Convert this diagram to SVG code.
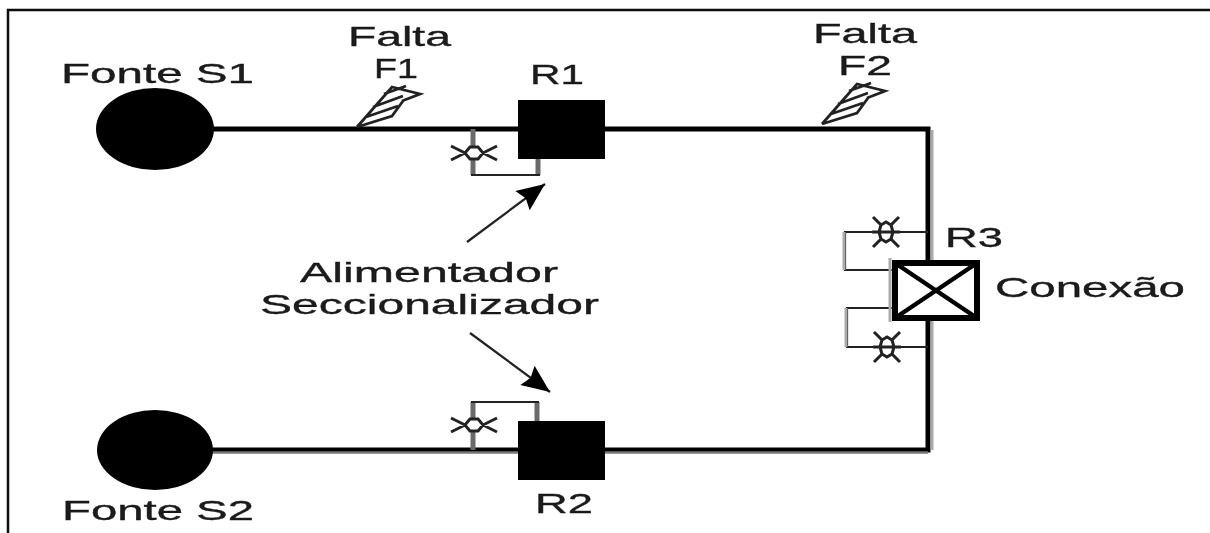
<svg xmlns="http://www.w3.org/2000/svg" width="1210" height="533" viewBox="0 0 1210 533">
<style>
text{font-family:"Liberation Sans",Arial,sans-serif;font-size:28px;fill:#1a1a1a;stroke:#1a1a1a;stroke-width:.35}
.main{fill:none;stroke:#000;stroke-width:5}
.loopv{fill:none;stroke:#6a6a6a;stroke-width:5}
.thin{fill:none;stroke:#222;stroke-width:2.2}
.sw{fill:none;stroke:#222;stroke-width:3}
.bolt{fill:none;stroke:#222;stroke-width:2.8}
</style>
<defs>
<filter id="soft" x="-2%" y="-2%" width="104%" height="104%"><feGaussianBlur stdDeviation="0.7"/></filter>
<marker id="arrow" markerUnits="userSpaceOnUse" markerWidth="34" markerHeight="30" refX="30" refY="15" orient="auto"><path d="M2 3L30 15L2 27L6 15Z" fill="#000"/></marker>
<g id="breakerH"><path d="M-9 0L-4-6H4L9 0L4 6H-4Z" fill="#fff" stroke="none"/><path class="sw" d="M-23-7L-9 0L-4-6H4L9 0L23-7M-23 7L-9 0L-4 6H4L9 0L23 7"/></g>
<g id="breakerV"><path class="sw" d="M-13-15L-5-7L-7 0L-5 7L-13 15M13-15L5-7L7 0L5 7L13 15M-5-7L0-10L5-7M-5 7L0 10L5 7M-14 0H14"/></g>
<g id="bolt"><path class="bolt" d="M357 127L392 87L420 94L402 101M357 127L392 116L403 101M366 117L398 106M373 107L403 96M384 94L406 86" /></g>
</defs>
<g filter="url(#soft)">
<g id="frame"><path d="M8 533V10H1210" fill="none" stroke="#111" stroke-width="2.5"/></g>
<g id="connectors">
<path class="main" d="M212 129H928V450H212"/>
<path d="M932 130V450" stroke="#aaa" stroke-width="3"/>
<path d="M212 452.500H928" stroke="#777" stroke-width="2.500"/>
<path class="loopv" d="M473 129V175M538 175V158M473 450V402M537 402V421"/>
<path class="thin" stroke-width="3" d="M471 175H540M471 402H539"/>
<path class="thin" d="M928 232H845V270H892"/>
<path class="thin" d="M928 347H847V308H892"/>
<path d="M844 232V270M846 308V347" stroke="#aaa" stroke-width="3" fill="none"/>
<path d="M890 258V322" stroke="#aaa" stroke-width="3"/>
<path d="M467 242L545 184" class="thin" marker-end="url(#arrow)"/>
<path d="M470 333L550 392" class="thin" marker-end="url(#arrow)"/>
</g>
<g id="fonte-s1"><ellipse cx="155" cy="129" rx="59" ry="41"/><text x="61" y="83" textLength="193" lengthAdjust="spacingAndGlyphs">Fonte S1</text></g>
<g id="fonte-s2"><ellipse cx="155" cy="450" rx="58" ry="40"/><text x="62" y="520" textLength="192" lengthAdjust="spacingAndGlyphs">Fonte S2</text></g>
<g id="r1"><rect x="518" y="100" width="87" height="59"/><text x="530" y="84" textLength="54" lengthAdjust="spacingAndGlyphs">R1</text></g>
<g id="r2"><rect x="518" y="421" width="87" height="59"/><text x="535" y="513" textLength="58" lengthAdjust="spacingAndGlyphs">R2</text></g>
<g id="r3"><rect x="895" y="263" width="82" height="55" fill="#fff" stroke="#000" stroke-width="6"/><path d="M895 263L977 318M977 263L895 318" stroke="#000" stroke-width="4.500"/><text x="945" y="247" textLength="58" lengthAdjust="spacingAndGlyphs">R3</text></g>
<g id="conexao"><text x="995" y="297" textLength="190" lengthAdjust="spacingAndGlyphs">Conexão</text></g>
<g id="breaker-r1"><use href="#breakerH" x="474" y="153"/></g>
<g id="breaker-r2"><use href="#breakerH" x="474" y="425"/></g>
<g id="breaker-r3a"><use href="#breakerV" x="886" y="232"/></g>
<g id="breaker-r3b"><use href="#breakerV" x="887" y="347"/></g>
<g id="falta-f1"><use href="#bolt"/><text x="348" y="46" textLength="103" lengthAdjust="spacingAndGlyphs">Falta</text><text x="374" y="78" textLength="44" lengthAdjust="spacingAndGlyphs">F1</text></g>
<g id="falta-f2"><use href="#bolt" x="465" y="-3"/><text x="813" y="43" textLength="104" lengthAdjust="spacingAndGlyphs">Falta</text><text x="838" y="75" textLength="54" lengthAdjust="spacingAndGlyphs">F2</text></g>
<g id="alimentador"><text x="300" y="282" textLength="258" lengthAdjust="spacingAndGlyphs">Alimentador</text><text x="260" y="314" textLength="339" lengthAdjust="spacingAndGlyphs">Seccionalizador</text></g>
</g>
</svg>
